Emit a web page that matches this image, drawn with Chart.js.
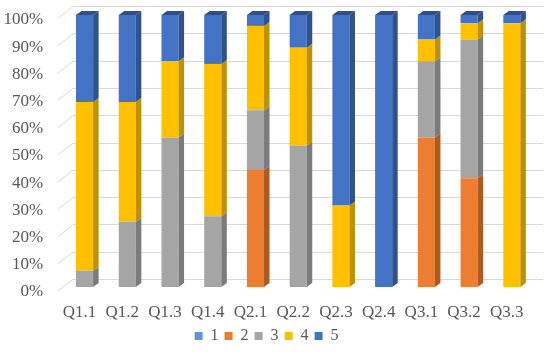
<!DOCTYPE html>
<html>
<head>
<meta charset="utf-8">
<script src="https://cdn.jsdelivr.net/npm/chart.js@4/dist/chart.umd.min.js"></script>
<style>
  html, body { margin: 0; padding: 0; background: #fff; }
</style>
</head>
<body>
<canvas id="chart" width="550" height="360"></canvas>
<script>
// categories and shares (%) per answer level
var questions = ['Q1.1', 'Q1.2', 'Q1.3', 'Q1.4', 'Q2.1', 'Q2.2', 'Q2.3', 'Q2.4', 'Q3.1', 'Q3.2', 'Q3.3'];
var level1 = [0, 0, 0, 0, 0, 0, 0, 0, 0, 0, 0];
var level2 = [0, 0, 0, 0, 43, 0, 0, 0, 55, 40, 0];
var level3 = [6, 24, 55, 26, 22, 52, 0, 0, 28, 51, 0];
var level4 = [62, 44, 28, 56, 31, 36, 30, 0, 8, 6, 97];
var level5 = [32, 32, 17, 18, 4, 12, 70, 100, 9, 3, 3];
var yTicks = [0, 10, 20, 30, 40, 50, 60, 70, 80, 90, 100];

var serif = "'Liberation Serif', 'Times New Roman', serif";
var faceColors = ['#5B9BD5', '#ED7D31', '#A5A5A5', '#FFC000', '#4472C4'];
var sideColors = ['#41719C', '#AE5A21', '#7B7B7B', '#BF9000', '#2F528F'];
var topColors = ['#4A7FAF', '#C4652A', '#8C8C8C', '#D9A300', '#2E4E8C'];

// fake 3D: side and top faces of the columns, plus the floor diagonals
var depth3d = {
    id: 'depth3d',
    afterLayout: function(chart) {
        // back wall sits a little up and right of the columns
        var back = chart.scales.yBack;
        back.top = 6.7;
        back.bottom = 279.3;
        back.configure();
        chart.chartArea.left = 73;
        chart.chartArea.right = 543;
    },
    beforeDatasetsDraw: function(chart) {
        var ctx = chart.ctx;
        var back = chart.scales.yBack;
        ctx.save();
        ctx.strokeStyle = '#D9D9D9';
        ctx.lineWidth = 1;
        yTicks.forEach(function(v) {
            var py = back.getPixelForValue(v);
            ctx.beginPath();
            ctx.moveTo(73, py);
            ctx.lineTo(58, py + 11.7);
            ctx.stroke();
        });
        ctx.restore();
    },
    afterDatasetsDraw: function(chart) {
        var ctx = chart.ctx;
        var dx = 5.5, dy = 4;
        var tops = [];
        ctx.save();
        chart.data.datasets.forEach(function(ds, di) {
            var meta = chart.getDatasetMeta(di);
            meta.data.forEach(function(bar, i) {
                var p = bar.getProps(['x', 'y', 'base', 'width'], true);
                if (Math.abs(p.base - p.y) < 0.5) return;
                var r = p.x + p.width / 2;
                ctx.fillStyle = sideColors[di];
                ctx.beginPath();
                ctx.moveTo(r, p.y);
                ctx.lineTo(r + dx, p.y - dy);
                ctx.lineTo(r + dx, p.base - dy);
                ctx.lineTo(r, p.base);
                ctx.closePath();
                ctx.fill();
                if (!tops[i] || p.y < tops[i].y) tops[i] = { y: p.y, x: p.x, w: p.width, di: di };
            });
        });
        tops.forEach(function(t) {
            if (!t) return;
            var l = t.x - t.w / 2, r = t.x + t.w / 2;
            ctx.fillStyle = topColors[t.di];
            ctx.beginPath();
            ctx.moveTo(l, t.y);
            ctx.lineTo(l + dx, t.y - dy);
            ctx.lineTo(r + dx, t.y - dy);
            ctx.lineTo(r, t.y);
            ctx.closePath();
            ctx.fill();
        });
        ctx.restore();
    }
};

var series = [level1, level2, level3, level4, level5];
var datasets = series.map(function(values, i) {
    return {
        label: String(i + 1),
        data: values,
        backgroundColor: faceColors[i],
        borderWidth: 0,
        barPercentage: 0.4,
        categoryPercentage: 1,
        clip: false
    };
});

var ctx = document.getElementById('chart').getContext('2d');
new Chart(ctx, {
    type: 'bar',
    data: { labels: questions, datasets: datasets },
    plugins: [depth3d],
    options: {
        responsive: false,
        animation: false,
        layout: { padding: { top: 15, right: 16.8, left: 0, bottom: 6 } },
        plugins: {
            legend: {
                position: 'bottom',
                labels: {
                    boxWidth: 8,
                    boxHeight: 8,
                    padding: 6,
                    color: '#595959',
                    font: { size: 16, family: serif }
                }
            },
            tooltip: { enabled: false }
        },
        scales: {
            x: {
                stacked: true,
                grid: { display: false, drawTicks: false },
                border: { display: false },
                ticks: {
                    color: '#595959',
                    padding: 15,
                    labelOffset: -5,
                    maxRotation: 0,
                    autoSkip: false,
                    font: { size: 17, family: serif }
                },
                afterFit: function(scale) {
                    scale.height = 35;
                    scale.paddingLeft = 0;
                    scale.paddingRight = 0;
                }
            },
            y: {
                stacked: true,
                min: 0,
                max: 100,
                grid: { display: false, drawTicks: false },
                border: { display: false },
                ticks: {
                    stepSize: 10,
                    padding: 20,
                    labelOffset: 5,
                    color: '#595959',
                    font: { size: 17, family: serif },
                    callback: function(value) { return value + '%'; }
                },
                afterFit: function(scale) {
                    scale.width = 63.2;
                    scale.paddingTop = 0;
                    scale.paddingBottom = 0;
                }
            },
            yBack: {
                position: 'left',
                min: 0,
                max: 100,
                grid: { color: '#D9D9D9', drawTicks: false },
                border: { display: false },
                ticks: { display: false, stepSize: 10 },
                afterFit: function(scale) { scale.width = 0; }
            }
        }
    }
});
</script>
</body>
</html>
